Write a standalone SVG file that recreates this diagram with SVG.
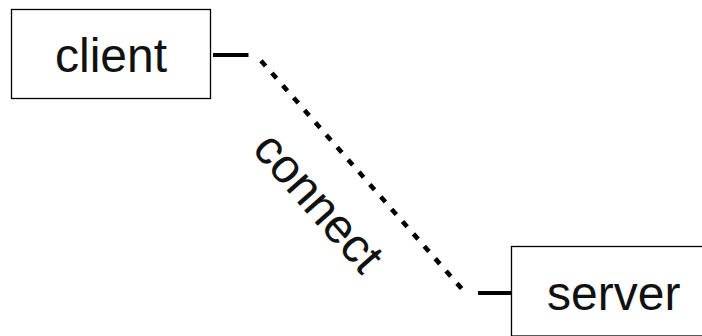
<svg xmlns="http://www.w3.org/2000/svg" width="702" height="336" viewBox="0 0 702 336">
<style>
.box{fill:#fff;stroke:#000;stroke-width:1.3}
.lbl{font-family:"Liberation Sans",Arial,sans-serif;font-size:48px;fill:#111}
.tick{stroke:#000;stroke-width:4;fill:none}
.dots{stroke:#000;stroke-width:4.6;fill:none;stroke-dasharray:7 9.48}
</style>
<rect width="702" height="336" fill="#fff"/>
<g id="connectors">
<line class="tick" x1="213" y1="55" x2="248.5" y2="55"/>
<line class="dots" x1="261.0" y1="60.7" x2="461.6" y2="288.6"/>
<line class="tick" x1="478" y1="293" x2="512" y2="293"/>
<text class="lbl" transform="translate(306.5,213) rotate(48.6)" text-anchor="middle">connect</text>
</g>
<g id="client">
<rect class="box" x="11.5" y="9.5" width="199" height="89"/>
<text class="lbl" x="111" y="72" text-anchor="middle">client</text>
</g>
<g id="server">
<rect class="box" x="511.5" y="246.5" width="200" height="89.5"/>
<text class="lbl" x="547" y="310">server</text>
</g>
</svg>
